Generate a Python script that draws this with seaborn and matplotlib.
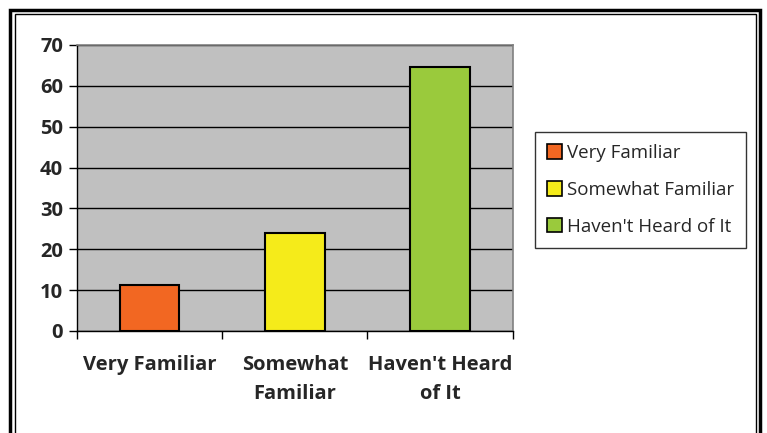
import matplotlib
matplotlib.use("Agg")
import matplotlib.pyplot as plt
import seaborn as sns
from matplotlib.patches import Rectangle

categories = ["Very Familiar", "Somewhat Familiar", "Haven't Heard of It"]
tick_labels = ["Very Familiar", "Somewhat\nFamiliar", "Haven't Heard\nof It"]
values = [11.3, 24.0, 64.5]
colors = ["#F26722", "#F5EB1A", "#9ACA3C"]

sns.set_style("white")
plt.rcParams['font.family'] = ['Open Sans', 'DejaVu Sans']

fig = plt.figure(figsize=(7.67, 4.33), dpi=100)
ax = fig.add_axes([0.1004, 0.2356, 0.5680, 0.6605])

sns.barplot(x=categories, y=values, hue=categories, palette=colors,
            width=0.41, dodge=False, edgecolor="black", linewidth=1.5,
            saturation=1, legend=False, ax=ax)

ax.set_facecolor("#C0C0C0")
ax.set_xlim(-0.5, 2.5)
ax.set_ylim(0, 70)
ax.set_yticks(range(0, 71, 10))
ax.yaxis.grid(True, color="black", linewidth=1)
ax.set_axisbelow(True)
for lbl in ax.get_yticklabels():
    lbl.set_fontweight("bold")
    lbl.set_fontsize(14.5)

# boundaries get tick marks, category centers get the labels
ax.set_xticks([-0.5, 0.5, 1.5, 2.5])
ax.set_xticklabels([])
ax.set_xticks([0, 1, 2], minor=True)
ax.set_xticklabels(tick_labels, minor=True, fontweight="bold", fontsize=14.5,
                   linespacing=1.6)
ax.tick_params(axis="x", which="minor", length=0, pad=17)
ax.tick_params(axis="both", which="major", direction="out", length=6,
               width=1, color="black", left=True, bottom=True)
ax.tick_params(axis="y", pad=4)
ax.set_xlabel("")
ax.set_ylabel("")

for side in ["left", "bottom"]:
    ax.spines[side].set_color("black")
    ax.spines[side].set_linewidth(1)
for side in ["top", "right"]:
    ax.spines[side].set_color("#808080")
    ax.spines[side].set_linewidth(1.2)

handles = [Rectangle((0, 0), 1, 1, facecolor=c, edgecolor="black", linewidth=1.2)
           for c in colors]
leg = fig.legend(handles, categories, loc="upper left",
                 bbox_to_anchor=(535 / 767, 1 - 132 / 433),
                 frameon=True, fancybox=False, edgecolor="black",
                 fontsize=13.5, handlelength=0.8, handleheight=0.8,
                 handletextpad=0.25, labelspacing=1.0, borderpad=0.65,
                 borderaxespad=0)
leg.get_frame().set_linewidth(1)

# double frame round the whole chart
fig.patches.append(Rectangle((10 / 767, -0.05), 750 / 767, 1.05 - 10 / 433,
                             transform=fig.transFigure, fill=False,
                             edgecolor="black", linewidth=2.5))
fig.patches.append(Rectangle((14.5 / 767, -0.05), 741 / 767, 1.05 - 14.5 / 433,
                             transform=fig.transFigure, fill=False,
                             edgecolor="black", linewidth=1))

fig.savefig("out.png", dpi=100)
